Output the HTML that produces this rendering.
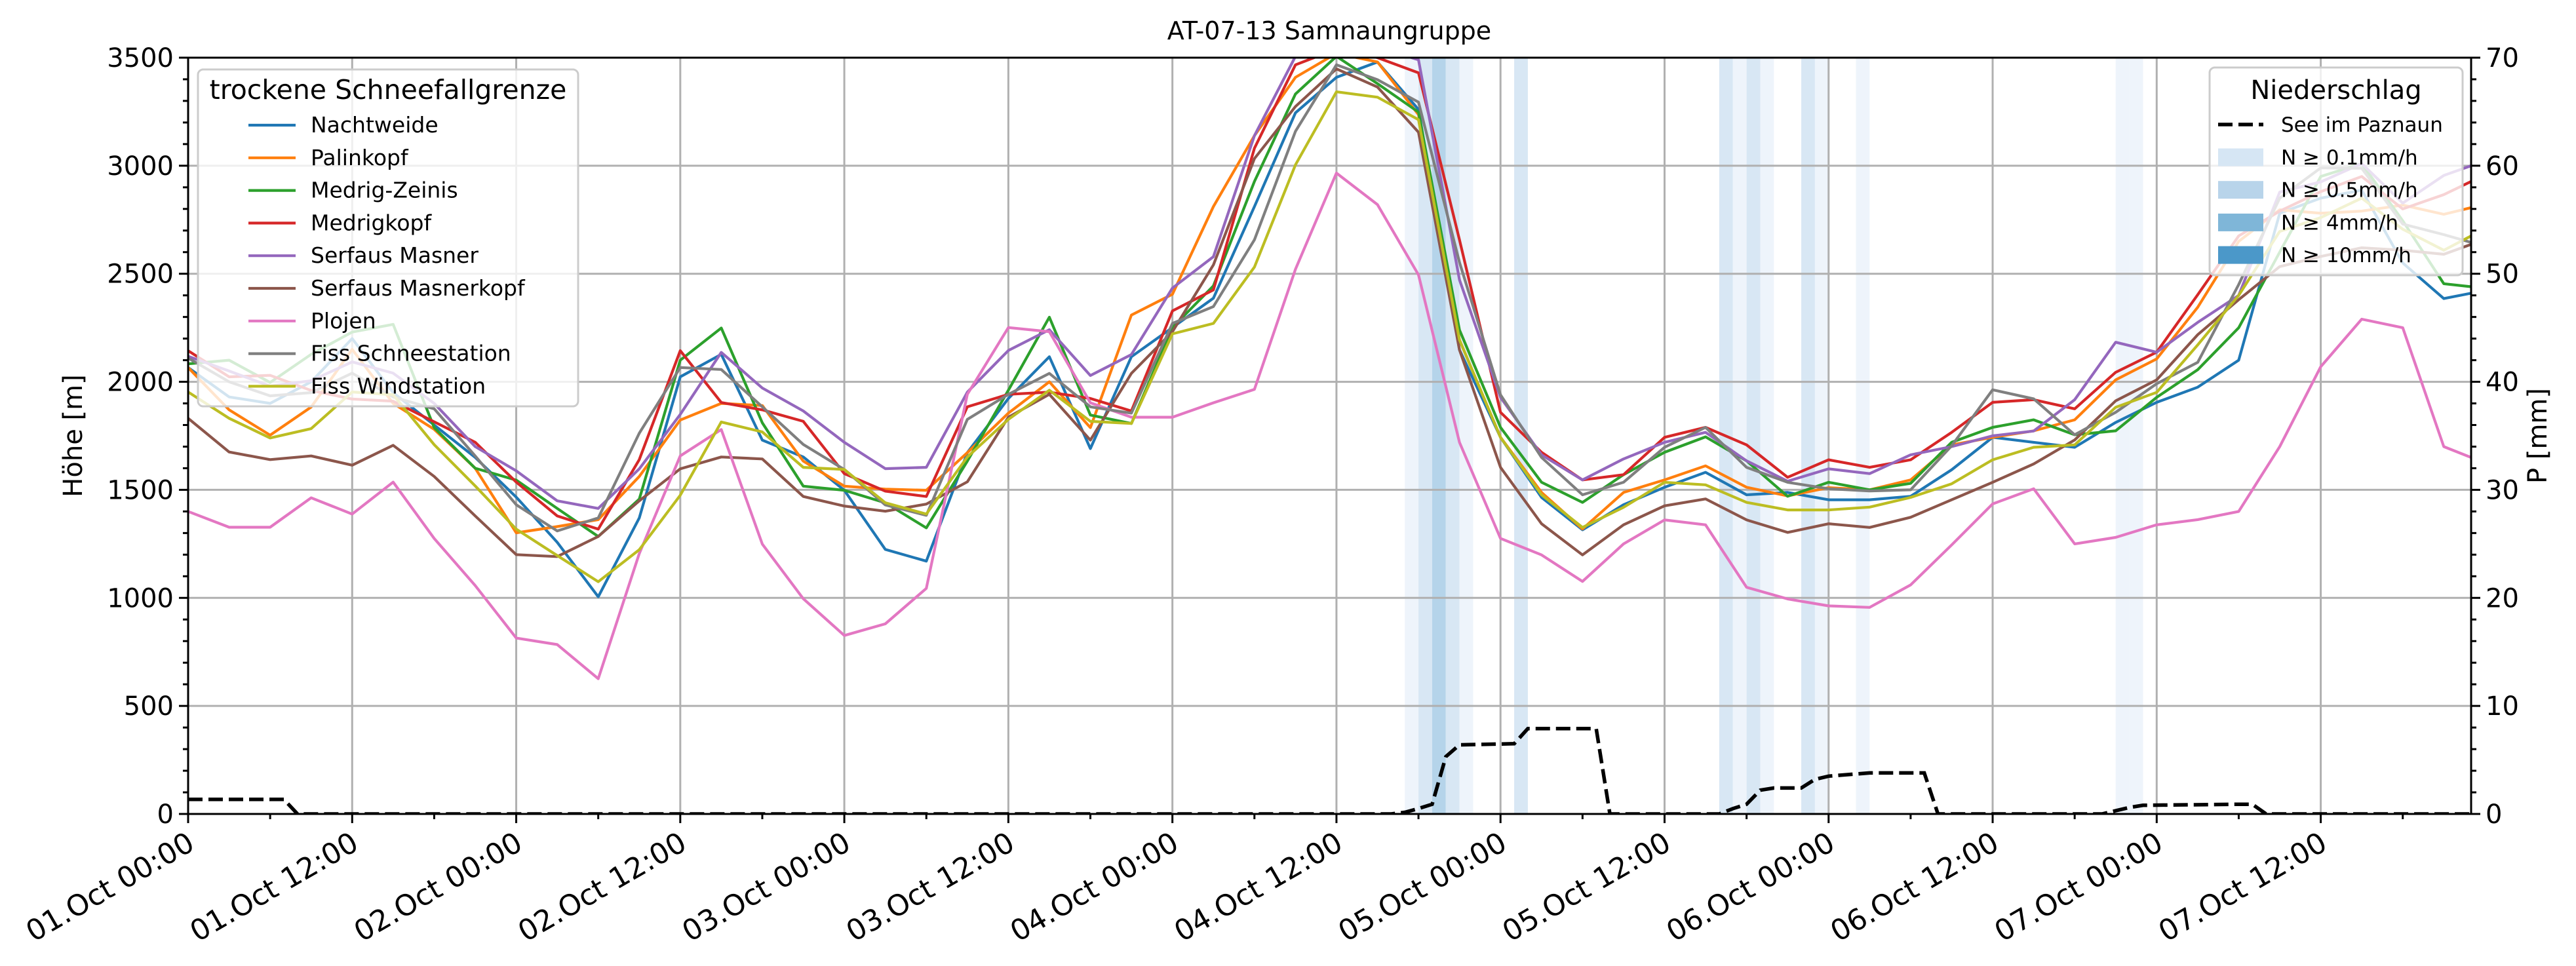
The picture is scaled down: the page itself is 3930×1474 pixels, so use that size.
<!DOCTYPE html>
<html><head><meta charset="utf-8"><title>AT-07-13 Samnaungruppe</title>
<style>
html,body{margin:0;padding:0;background:#fff;}
svg{display:block;font-family:"DejaVu Sans","Liberation Sans",sans-serif;}
</style></head>
<body>
<svg id="chart" width="3930" height="1474" viewBox="0 0 3930 1474" xmlns="http://www.w3.org/2000/svg">
<defs><clipPath id="plotclip"><rect x="287" y="88" width="3483" height="1154"/></clipPath></defs>
<rect width="3930" height="1474" fill="#fff"/>
<g id="bands" clip-path="url(#plotclip)"></g>
<g id="grid"></g>
<g id="lines" clip-path="url(#plotclip)"></g>
<g id="axes"></g>
<g id="legends"></g>
</svg>
<script>
// ---- data ----
const hours = [0,3,6,9,12,15,18,21,24,27,30,33,36,39,42,45,48,51,54,57,60,63,66,69,72,75,78,81,84,87,90,93,96,99,102,105,108,111,114,117,120,123,126,129,132,135,138,141,144,147,150,153,156,159,162,165,167];
const seriesNames = ["Nachtweide","Palinkopf","Medrig-Zeinis","Medrigkopf","Serfaus Masner","Serfaus Masnerkopf","Plojen","Fiss Schneestation","Fiss Windstation"];
const nachtweide = [2066,1930,1900,2000,2200,1950,1800,1650,1466,1257,1005,1370,2023,2127,1730,1652,1498,1224,1170,1672,1923,2116,1691,2116,2251,2387,2811,3245,3409,3480,3260,2148,1743,1465,1315,1431,1512,1581,1477,1488,1454,1454,1470,1593,1743,1720,1697,1812,1905,1975,2100,2780,2850,2887,2550,2385,2410];
const palinkopf = [2066,1870,1753,1883,2150,1900,1780,1600,1301,1330,1362,1562,1823,1900,1890,1633,1517,1503,1498,1672,1855,2000,1788,2309,2405,2811,3139,3409,3520,3480,3236,2194,1743,1488,1319,1488,1546,1611,1512,1472,1510,1500,1546,1708,1743,1773,1824,2009,2106,2345,2650,2796,2780,2790,2818,2775,2806];
const medrigZeinis = [2083,2100,1997,2127,2230,2266,1788,1600,1545,1414,1284,1457,2100,2249,1810,1517,1498,1440,1324,1633,1961,2299,1846,1807,2251,2444,2927,3332,3506,3380,3248,2240,1789,1535,1442,1570,1674,1745,1634,1470,1535,1500,1530,1720,1789,1824,1755,1773,1928,2056,2250,2600,2950,3010,2745,2454,2440];
const medrigkopf = [2144,2023,2030,1960,1920,1910,1815,1720,1536,1379,1318,1640,2144,1904,1870,1817,1575,1494,1469,1884,1942,1952,1923,1865,2328,2425,3081,3467,3540,3500,3430,2657,1859,1674,1546,1570,1743,1789,1708,1558,1639,1604,1639,1766,1905,1917,1875,2044,2137,2403,2675,2790,2880,2950,2800,2866,2927];
const serfausMasner = [2118,2050,1980,2005,2092,2040,1900,1700,1588,1449,1414,1597,1849,2136,1971,1865,1720,1598,1604,1952,2145,2241,2029,2126,2434,2579,3139,3506,3560,3550,3490,2472,1928,1662,1546,1643,1720,1766,1634,1540,1597,1575,1662,1700,1750,1772,1917,2183,2137,2275,2400,2878,2925,3010,2827,2955,3000];
const serfausMasnerkopf = [1831,1675,1640,1657,1614,1706,1562,1379,1200,1191,1284,1449,1597,1652,1643,1469,1425,1401,1434,1537,1836,1942,1730,2039,2232,2541,3033,3274,3448,3364,3155,2148,1604,1343,1199,1338,1426,1458,1361,1303,1343,1326,1373,1454,1535,1620,1731,1912,2009,2218,2380,2533,2580,2620,2609,2590,2636];
const plojen = [1400,1327,1327,1463,1388,1536,1275,1057,814,784,626,1205,1657,1779,1249,996,826,880,1044,1942,2251,2232,1903,1836,1836,1903,1965,2521,2966,2820,2495,1720,1275,1199,1076,1250,1361,1338,1049,995,963,956,1060,1245,1435,1505,1250,1280,1338,1362,1400,1700,2070,2290,2250,1700,1650];
const fissSchneestation = [2110,2000,1935,1950,2040,1930,1875,1657,1431,1310,1370,1762,2066,2057,1884,1710,1594,1430,1382,1826,1942,2039,1884,1855,2270,2348,2657,3159,3467,3398,3294,2553,1940,1650,1477,1535,1697,1789,1604,1535,1505,1495,1500,1704,1963,1921,1755,1859,1991,2090,2450,2850,2990,2988,2730,2681,2645];
const fissWindstation = [1953,1831,1740,1783,1953,1940,1709,1518,1318,1196,1075,1223,1475,1814,1768,1604,1594,1440,1388,1652,1826,1961,1817,1807,2222,2270,2531,3004,3342,3317,3213,2194,1743,1477,1326,1419,1535,1523,1442,1407,1407,1420,1465,1528,1639,1697,1708,1882,1951,2171,2400,2696,2760,2850,2706,2609,2675];
const precipHours = [0,7,8,88,89,90,91,92,93,97,98,103,104,112,113,114,115,116,118,119,120,122,123,127,128,140,141,142,143,150,151,152,167];
const precipValues = [1.35,1.35,0,0,0.15,0.5,0.9,5.3,6.4,6.5,7.9,7.9,0,0,0.5,0.9,2.2,2.4,2.4,3.2,3.5,3.7,3.8,3.8,0,0,0.3,0.6,0.8,0.9,0.9,0,0];
const bandHours = [89,90,91,92,93,97,112,113,114,115,118,119,122,141,142];
const bandLevels = [1,2,3,2,1,2,2,1,2,1,2,1,1,1,1];
const xTickLabels = ["01.Oct 00:00","01.Oct 12:00","02.Oct 00:00","02.Oct 12:00","03.Oct 00:00","03.Oct 12:00","04.Oct 00:00","04.Oct 12:00","05.Oct 00:00","05.Oct 12:00","06.Oct 00:00","06.Oct 12:00","07.Oct 00:00","07.Oct 12:00"];
const yTickLabels = ["0","500","1000","1500","2000","2500","3000","3500"];
const y2TickLabels = ["0","10","20","30","40","50","60","70"];

// ---- layout ----
const L=287,R=3770,T=88,B=1242,HMAX=167,YMAX=3500,PMAX=70;
const NS="http://www.w3.org/2000/svg";
const xs=h=>L+h*(R-L)/HMAX;
const ys=v=>B-v*(B-T)/YMAX;
const ps=v=>B-v*(B-T)/PMAX;
const colors=["#1f77b4","#ff7f0e","#2ca02c","#d62728","#9467bd","#8c564b","#e377c2","#7f7f7f","#bcbd22"];
const allSeries=[nachtweide,palinkopf,medrigZeinis,medrigkopf,serfausMasner,serfausMasnerkopf,plojen,fissSchneestation,fissWindstation];
const bandColors=["","#eef4fb","#d8e7f4","#b5d4ea","#4b98c9"];
function mk(tag,attrs,parent){const e=document.createElementNS(NS,tag);for(const k in attrs)e.setAttribute(k,attrs[k]);parent.appendChild(e);return e;}
const gB=document.getElementById('bands'),gG=document.getElementById('grid'),gL=document.getElementById('lines'),gA=document.getElementById('axes');

bandHours.forEach((h,i)=>{
  const r=mk('rect',{x:xs(h),y:T,width:xs(h+1)-xs(h),height:B-T,fill:bandColors[bandLevels[i]]},gB);
  
  
});
for(let h=0;h<=HMAX;h+=12){
  const l=mk('line',{x1:xs(h),x2:xs(h),y1:T,y2:B,stroke:"#b0b0b0","stroke-width":3},gG);
  
  
}
for(let v=500;v<YMAX;v+=500){
  const l=mk('line',{x1:L,x2:R,y1:ys(v),y2:ys(v),stroke:"#b0b0b0","stroke-width":3},gG);
  
  
}
allSeries.forEach((s,i)=>{
  const n=Math.min(s.length,hours.length);
  let d="";for(let k=0;k<n;k++)d+=(k?"L":"M")+xs(hours[k]).toFixed(1)+","+ys(s[k]).toFixed(1);
  const p=mk('path',{d:d,fill:"none",stroke:colors[i],"stroke-width":4.2,"stroke-linejoin":"round"},gL);
  
  
});
{
  let d="";precipHours.forEach((h,k)=>{d+=(k?"L":"M")+xs(h).toFixed(1)+","+ps(precipValues[k]).toFixed(1);});
  const p=mk('path',{d:d,fill:"none",stroke:"#000","stroke-width":5.5,"stroke-dasharray":"22,9"},gL);
  
  
}
const fr=mk('rect',{x:L,y:T,width:R-L,height:B-T,fill:"none",stroke:"#000","stroke-width":3},gA);


for(let h=0;h<=HMAX;h+=6){
  const maj=h%12===0;
  mk('line',{x1:xs(h),x2:xs(h),y1:B,y2:B+(maj?14:8),stroke:"#000","stroke-width":3},gA);
}
xTickLabels.forEach((lab,i)=>{
  const x=xs(i*12);
  const t=mk('text',{transform:`translate(${x-4},1266) rotate(-30)`,"text-anchor":"end",dy:"0.75em","font-size":44,fill:"#000"},gA);
  t.textContent=lab;
  
  
});
for(let v=0;v<=YMAX;v+=100){
  const maj=v%500===0;
  mk('line',{x1:L,x2:L-(maj?14:8),y1:ys(v),y2:ys(v),stroke:"#000","stroke-width":3},gA);
}
yTickLabels.forEach((lab,i)=>{
  const t=mk('text',{x:L-22,y:ys(i*500)+14,"text-anchor":"end","font-size":40,fill:"#000"},gA);
  t.textContent=lab;
  
  
});
for(let v=0;v<=PMAX;v+=2){
  const maj=v%10===0;
  mk('line',{x1:R,x2:R+(maj?14:8),y1:ps(v),y2:ps(v),stroke:"#000","stroke-width":3},gA);
}
y2TickLabels.forEach((lab,i)=>{
  const t=mk('text',{x:R+22,y:ps(i*10)+14,"text-anchor":"start","font-size":40,fill:"#000"},gA);
  t.textContent=lab;
  
  
});
</script>
<script>
(function(){
const NS="http://www.w3.org/2000/svg";
const g=document.getElementById('legends');
function mk(tag,attrs,parent){const e=document.createElementNS(NS,tag);for(const k in attrs)e.setAttribute(k,attrs[k]);parent.appendChild(e);return e;}
const title=mk('text',{x:2028,y:60,"text-anchor":"middle","font-size":38,fill:"#000"},g);
title.textContent="AT-07-13 Samnaungruppe";


const yl=mk('text',{transform:"translate(125,665) rotate(-90)","text-anchor":"middle","font-size":40,fill:"#000"},g);
yl.textContent="Höhe [m]";


const yr=mk('text',{transform:"translate(3885,665) rotate(-90)","text-anchor":"middle","font-size":40,fill:"#000"},g);
yr.textContent="P [mm]";


const lb=mk('rect',{x:302,y:106,width:580,height:514,rx:8,fill:"#fff","fill-opacity":0.8,stroke:"#cccccc","stroke-width":3},g);


const lt=mk('text',{x:592,y:151,"text-anchor":"middle","font-size":41,fill:"#000"},g);
lt.textContent="trockene Schneefallgrenze";


const names=["Nachtweide","Palinkopf","Medrig-Zeinis","Medrigkopf","Serfaus Masner","Serfaus Masnerkopf","Plojen","Fiss Schneestation","Fiss Windstation"];
const cols=["#1f77b4","#ff7f0e","#2ca02c","#d62728","#9467bd","#8c564b","#e377c2","#7f7f7f","#bcbd22"];
names.forEach((n,i)=>{
  const y=191+i*49.8;
  const ln=mk('line',{x1:379,x2:451,y1:y,y2:y,stroke:cols[i],"stroke-width":4.2},g);
  
  
  const t=mk('text',{x:474,y:y+11,"font-size":33,fill:"#000"},g);
  t.textContent=n;
  
  
});
const rb=mk('rect',{x:3371,y:103,width:386,height:317,rx:8,fill:"#fff","fill-opacity":0.8,stroke:"#cccccc","stroke-width":3},g);


const rt=mk('text',{x:3564,y:151,"text-anchor":"middle","font-size":40,fill:"#000"},g);
rt.textContent="Niederschlag";


const dl=mk('line',{x1:3384,x2:3453,y1:190,y2:190,stroke:"#000","stroke-width":5.5,"stroke-dasharray":"22,9"},g);


const dt=mk('text',{x:3480,y:201,"font-size":31,fill:"#000"},g);
dt.textContent="See im Paznaun";


const pl=["N ≥ 0.1mm/h","N ≥ 0.5mm/h","N ≥ 4mm/h","N ≥ 10mm/h"];
const pc=["#d6e6f4","#b8d4ea","#7fb6d8","#4b98c9"];
pl.forEach((n,i)=>{
  const y=240+i*49.7;
  const r=mk('rect',{x:3384,y:y-13.5,width:69,height:27,fill:pc[i]},g);
  
  
  const t=mk('text',{x:3480,y:y+11,"font-size":31,fill:"#000"},g);
  t.textContent=n;
  
  
});
})();
</script>
</body></html>
